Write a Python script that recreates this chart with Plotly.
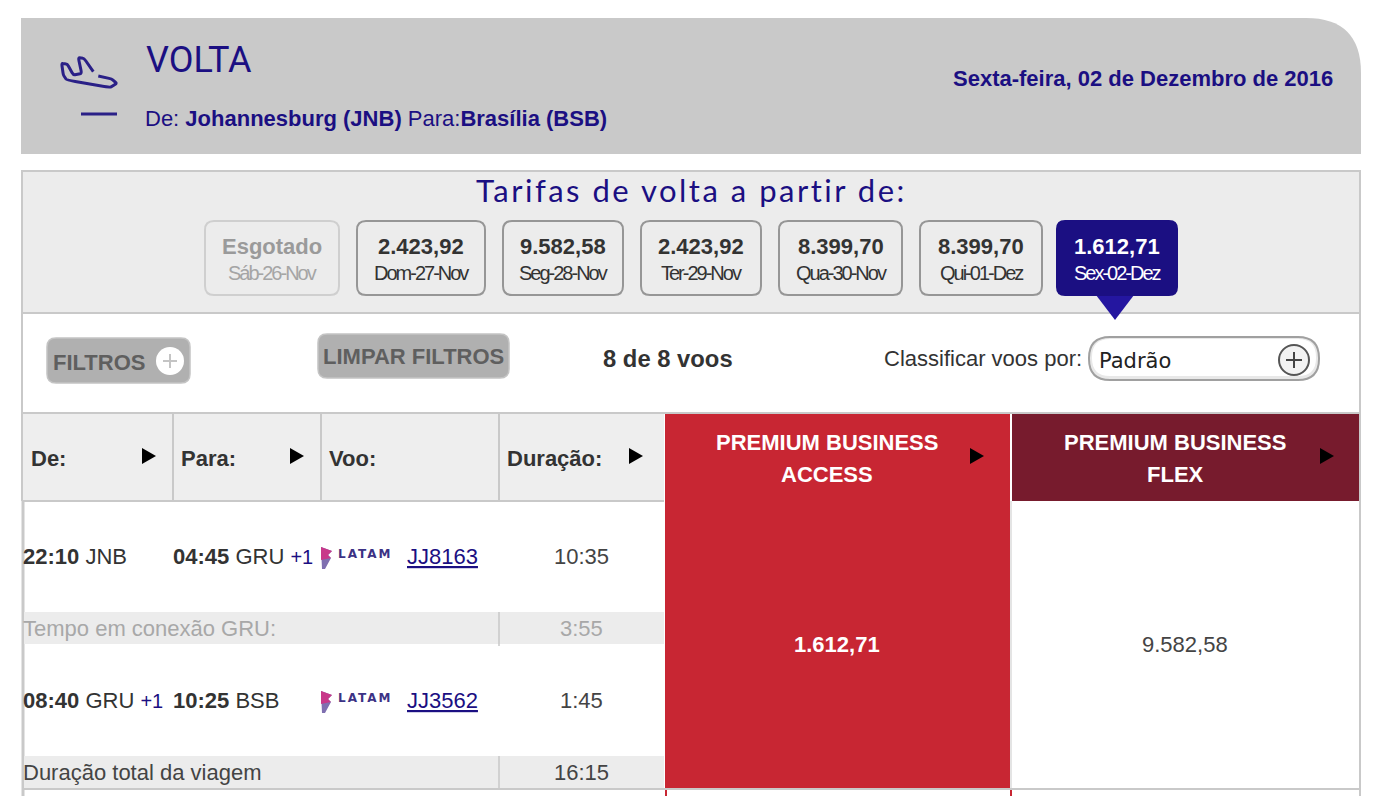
import plotly.graph_objects as go

# valores
dias = ["Sáb-26-Nov", "Dom-27-Nov", "Seg-28-Nov", "Ter-29-Nov", "Qua-30-Nov", "Qui-01-Dez", "Sex-02-Dez"]
tarifas_dia = ["Esgotado", "2.423,92", "9.582,58", "2.423,92", "8.399,70", "8.399,70", "1.612,71"]

colunas = ["De:", "Para:", "Voo:", "Duração:"]
tarifas_nome = [["PREMIUM BUSINESS", "ACCESS"], ["PREMIUM BUSINESS", "FLEX"]]
tarifas_preco = ["1.612,71", "9.582,58"]

partida = [("22:10", "JNB", ""), ("08:40", "GRU", "+1")]
chegada = [("04:45", "GRU", "+1"), ("10:25", "BSB", "")]
voos = ["JJ8163", "JJ3562"]
duracoes = ["10:35", "1:45"]
conexao = ("Tempo em conexão GRU:", "3:55")
total = ("Duração total da viagem", "16:15")

AZUL = "#1b0f82"
CINZA_BORDA = "#c9c9c9"
CINZA_FUNDO = "#ececec"
TEXTO = "#333333"
VERMELHO = "#c82633"
VINHO = "#771b2d"
ARIAL = "Liberation Sans"

fig = go.Figure()


def retangulo(x0, y0, x1, y1, cor, borda=None, lw=0):
    fig.add_shape(type="rect", x0=x0, y0=y0, x1=x1, y1=y1, fillcolor=cor,
                  line=dict(color=borda or cor, width=lw))


def linha(x0, y0, x1, y1, cor=CINZA_BORDA, lw=2):
    fig.add_shape(type="line", x0=x0, y0=y0, x1=x1, y1=y1, line=dict(color=cor, width=lw))


def arredondado(x0, y0, x1, y1, r, cor, borda=None, lw=0):
    p = (f"M {x0+r} {y0} L {x1-r} {y0} Q {x1} {y0} {x1} {y0+r} L {x1} {y1-r} Q {x1} {y1} {x1-r} {y1} "
         f"L {x0+r} {y1} Q {x0} {y1} {x0} {y1-r} L {x0} {y0+r} Q {x0} {y0} {x0+r} {y0} Z")
    fig.add_shape(type="path", path=p, fillcolor=cor, line=dict(color=borda or cor, width=lw))


def triangulo(x, y, cor="#000000"):
    fig.add_shape(type="path", path=f"M {x-7} {y-8} L {x+7} {y} L {x-7} {y+8} Z", fillcolor=cor,
                  line=dict(color=cor, width=0))


def texto(x, y, s, tam=22, cor=TEXTO, anc="left", fonte=ARIAL):
    fig.add_annotation(x=x, y=y, text=s, showarrow=False, xanchor=anc, yanchor="middle", align=anc,
                       font=dict(family=fonte, size=tam, color=cor), borderpad=0, borderwidth=0)


def mais_um(extra):
    return f' <span style="color:{AZUL};font-size:20px">{extra}</span>' if extra else ""


# cabecalho
fig.add_shape(type="path",
              path="M 21 18 L 1306 18 Q 1361 18 1361 73 L 1361 154 L 21 154 Z",
              fillcolor="#c9c9c9", line=dict(width=0))
aviao = [(160, 95), (132, 55), (115, 53), (125, 100), (100, 105), (82, 72), (65, 70), (70, 105), (80, 120),
         (210, 143), (230, 130), (215, 117), (175, 108)]
aviao = [(a / 3 + 40, b / 3 + 40) for a, b in aviao]
caminho = f"M {aviao[0][0]:.1f} {aviao[0][1]:.1f}"
for k in range(1, len(aviao) - 1):
    ax, ay = aviao[k - 1]
    bx, by = aviao[k]
    cx, cy = aviao[k + 1]
    caminho += f" L {bx+(ax-bx)*0.2:.1f} {by+(ay-by)*0.2:.1f}"
    caminho += f" Q {bx:.1f} {by:.1f} {bx+(cx-bx)*0.2:.1f} {by+(cy-by)*0.2:.1f}"
caminho += f" L {aviao[-1][0]:.1f} {aviao[-1][1]:.1f}"
fig.add_shape(type="path", path=caminho, line=dict(color="#2a2087", width=3))
linha(81, 114, 117, 114, "#2a2087", 3)

texto(146, 60, "VOLTA", 36, AZUL, fonte="Roboto")
texto(145, 118, "De: <b>Johannesburg (JNB)</b> Para:<b>Brasília (BSB)</b>", 22, AZUL)
texto(1333, 78, "<b>Sexta-feira, 02 de Dezembro de 2016</b>", 22, AZUL, "right")

# painel de tarifas
retangulo(22, 171, 1360, 313, CINZA_FUNDO)
linha(21, 171, 1361, 171)
linha(22, 171, 22, 501)
linha(1360, 171, 1360, 796)
linha(22, 313, 1360, 313)
texto(691, 190, "Tarifas de volta a partir de:", 31, AZUL, "center", "Lato")

dia_x0 = [205, 357, 503, 641, 779, 920, 1056]
dia_x1 = [339, 485, 623, 761, 902, 1042, 1178]
for i, (d, t) in enumerate(zip(dias, tarifas_dia)):
    meio = (dia_x0[i] + dia_x1[i]) / 2
    if i == 0:
        arredondado(dia_x0[i], 221, dia_x1[i], 295, 9, CINZA_FUNDO, "#cfcfcf", 2)
        cor1, cor2 = "#9a9a9a", "#a5a5a5"
    elif i == 6:
        fig.add_shape(type="path", path="M 1096 295 L 1134 295 L 1115 320 Z", fillcolor="#2416a0", line=dict(width=0))
        arredondado(dia_x0[i], 220, dia_x1[i], 296, 9, AZUL)
        cor1, cor2 = "#ffffff", "#ffffff"
    else:
        arredondado(dia_x0[i], 221, dia_x1[i], 295, 9, CINZA_FUNDO, "#969696", 2)
        cor1, cor2 = TEXTO, TEXTO
    texto(meio, 246.5, f"<b>{t}</b>", 22, cor1, "center")
    texto(meio - 0.5, 273, d, 20, cor2, "center")

# filtros
arredondado(47, 338, 190, 383, 9, "#b0b0b0", "#c4c4c4", 1.5)
texto(53, 362, "<b>FILTROS</b>", 22, "#5f5f5f")
fig.add_shape(type="circle", x0=156, y0=347, x1=184, y1=375, fillcolor="#ffffff", line=dict(width=0))
linha(163, 361, 177, 361, "#c4c4c4", 2)
linha(170, 354, 170, 368, "#c4c4c4", 2)
arredondado(318, 334, 509, 378, 9, "#b0b0b0", "#c4c4c4", 1.5)
texto(413.5, 356, "<b>LIMPAR FILTROS</b>", 22, "#5f5f5f", "center")
texto(668, 358, "<b>8 de 8 voos</b>", 23.8, TEXTO, "center")
texto(1082, 358, "Classificar voos por:", 22, TEXTO, "right")
arredondado(1089, 337, 1319, 380, 21, "#e8e8e8", "#a0a0a0", 2)
arredondado(1092, 339, 1316, 376, 18, "#ffffff")
texto(1099, 361, "Padrão", 21, "#222222", fonte="DejaVu Sans")
fig.add_shape(type="circle", x0=1279, y0=345, x1=1309, y1=375, fillcolor="#f2f2f2", line=dict(color="#555555", width=2))
linha(1286, 360, 1302, 360, "#444444", 2)
linha(1294, 352, 1294, 368, "#444444", 2)

# cabecalho da tabela
retangulo(23, 413, 664, 501, "#eeeeee")
linha(22, 413, 1360, 413)
retangulo(665, 414, 1010, 501, VERMELHO)
retangulo(1012, 414, 1359, 501, VINHO)
linha(23, 501, 664, 501)
for x in [173, 321, 499]:
    linha(x, 413, x, 501)
col_x = [31, 181, 329, 507]
for x, c in zip(col_x, colunas):
    texto(x, 458, f"<b>{c}</b>", 22, TEXTO)
for x in [149, 297, 636, 977, 1327]:
    triangulo(x, 456)
nome_x = [827, 1175]
for x, n in zip(nome_x, tarifas_nome):
    texto(x, 442, f"<b>{n[0]}</b>", 22, "#ffffff", "center")
    texto(x, 474, f"<b>{n[1]}</b>", 22, "#ffffff", "center")

# corpo da tabela
linha(23, 500, 23, 796, CINZA_BORDA, 3)
retangulo(665, 501, 1010, 788, VERMELHO)
linha(1011, 501, 1011, 788, CINZA_BORDA, 1)
retangulo(24, 612, 664, 644, CINZA_FUNDO)
retangulo(24, 756, 664, 788, CINZA_FUNDO)
linha(499, 612, 499, 646, CINZA_BORDA, 1.5)
linha(499, 756, 499, 788, CINZA_BORDA, 1.5)
linha(23, 789, 1360, 789)
linha(666, 790, 666, 796, VERMELHO, 2)
linha(1011, 790, 1011, 796, VERMELHO, 2)

linha_y = [556, 700]
for i, y in enumerate(linha_y):
    h, a, extra = partida[i]
    texto(23, y, f"<b>{h}</b> {a}" + mais_um(extra), 22, TEXTO)
    h, a, extra = chegada[i]
    texto(173, y, f"<b>{h}</b> {a}" + mais_um(extra), 22, TEXTO)
    # logo
    fig.add_shape(type="path", path=f"M 321 {y-9} L 332 {y-5} L 328 {y-1} L 331 {y+2} L 325 {y+13} L 322 {y+13} Z",
                  fillcolor="#7f6fb0", line=dict(width=0))
    fig.add_shape(type="path", path=f"M 321 {y-9} L 332 {y-5} L 328 {y-1} L 331 {y+2} L 321 {y+4} Z",
                  fillcolor="#c8388a", line=dict(width=0))
    texto(338, y-2.5, "<b>LATAM</b>", 12, "#3c3285", fonte="DejaVu Sans")
    texto(407, y, f"<u>{voos[i]}</u>", 22, AZUL)
    texto(581, y, duracoes[i], 22, "#444444", "center")

texto(23, 628, conexao[0], 22, "#a8a8a8")
texto(581, 628, conexao[1], 22, "#a8a8a8", "center")
texto(23, 772, total[0], 22, "#444444")
texto(581, 772, total[1], 22, "#444444", "center")

texto(837, 644, f"<b>{tarifas_preco[0]}</b>", 22, "#ffffff", "center")
texto(1185, 644, tarifas_preco[1], 22, "#444444", "center")

fig.update_layout(
    width=1384, height=796, margin=dict(l=0, r=0, t=0, b=0),
    plot_bgcolor="#ffffff", paper_bgcolor="#ffffff", showlegend=False,
    xaxis=dict(range=[0, 1384], visible=False, fixedrange=True),
    yaxis=dict(range=[796, 0], visible=False, fixedrange=True),
)

# ajuste fino: margem da pagina e espacamento entre letras
script = """
document.body.style.margin = '0';
document.querySelectorAll('.annotation-text').forEach(function (t) {
  var s = t.textContent;
  if (/^(Sáb|Dom|Seg|Ter|Qua|Qui|Sex)-/.test(s)) t.style.letterSpacing = '-2px';
  if (s.indexOf('Tarifas') === 0) t.style.letterSpacing = '2.5px';
  if (s === 'LATAM') t.style.letterSpacing = '2px';
});
"""
fig.write_html("out.html", post_script=script, config=dict(displayModeBar=False))
